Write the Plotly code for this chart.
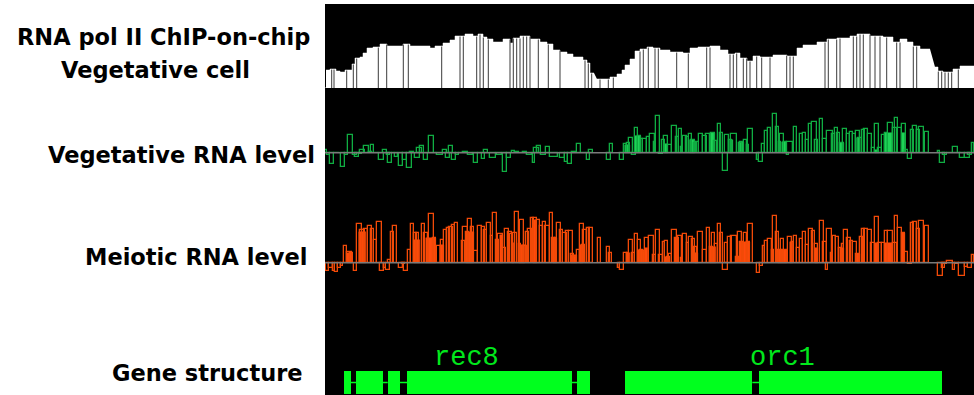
import plotly.graph_objects as go

# ---------------- data (positions in probe-track units along the region) ----------------
track_labels = ["Vegetative RNA level", "Meiotic RNA level", "Gene structure"]
chip_label_lines = ["RNA pol II ChIP-on-chip", "Vegetative cell"]

# RNA pol II ChIP-on-chip signal: [start, end, value]
chip_segments = [
    [1, 5, 18], [5, 11, 19], [11, 15, 17], [15, 20, 16], [20, 27, 18], [27, 30, 24], [30, 35, 30],
    [35, 38, 31], [38, 42, 35], [42, 48, 40], [48, 55, 41], [55, 62, 44], [62, 78, 42], [78, 85, 44],
    [85, 105, 42], [105, 110, 40], [110, 118, 42], [118, 125, 45], [125, 130, 48], [130, 140, 52],
    [140, 148, 54], [148, 153, 52], [153, 158, 54], [158, 162, 51], [162, 168, 49], [168, 178, 46],
    [178, 185, 49], [185, 188, 45], [188, 195, 50], [195, 205, 52], [205, 215, 49], [215, 222, 46],
    [222, 228, 44], [228, 235, 38], [235, 242, 36], [242, 248, 34], [248, 258, 31], [258, 262, 28],
    [262, 265, 25], [265, 269, 15],
    [272, 278, 9], [278, 285, 9], [285, 292, 11], [292, 297, 14], [297, 300, 18], [300, 305, 23],
    [305, 310, 29], [310, 315, 37], [315, 322, 39], [322, 328, 41], [328, 335, 40], [335, 345, 38],
    [345, 358, 36], [358, 365, 35], [365, 373, 40], [373, 385, 41], [385, 395, 42], [395, 403, 38],
    [403, 410, 34], [410, 415, 35], [415, 422, 30], [422, 428, 27], [428, 435, 32], [435, 448, 31],
    [448, 462, 33], [462, 472, 32], [472, 478, 40], [478, 492, 43], [492, 502, 46], [502, 512, 49],
    [512, 525, 50], [525, 532, 52], [532, 545, 54], [545, 558, 52], [558, 568, 51], [568, 575, 46],
    [575, 582, 49], [582, 588, 46], [588, 595, 42], [595, 605, 39],
    [610, 613, 21], [613, 618, 17], [618, 628, 16], [628, 635, 19], [635, 649, 22],
]
# probe boundaries visible as dark lines inside the ChIP profile
chip_separators = [
    6.7, 9, 21.7, 28.3, 31.7, 53.3, 61.7, 78.3, 83.3, 116.7, 135, 138.3, 151.7, 155, 158.3, 163.3,
    185, 188.3, 191.7, 195, 198.3, 201.7, 205, 213.3, 223.3, 235, 260, 263.3, 266.7, 275, 283.3,
    288.3, 315, 318.3, 323.3, 330, 333.3, 351.7, 363.3, 381.7, 385, 405, 408.3, 411.7, 418.3, 421.7,
    425, 431.7, 436.7, 445, 461.7, 465, 468.3, 500, 503.3, 511.7, 515, 528.3, 531.7, 535, 538.3,
    545, 550, 555, 561.7, 571.7, 575, 588.3, 591.7, 613.3, 616.7, 620, 623.3, 626.7, 633.3,
]

# Vegetative RNA level: [start, end, value]
veg_bars = [
    [0, 2.3, 2.7], [2.3, 5, -2.3], [5, 9, -11], [9, 15, -0.7], [15.7, 20, -14.7], [20, 23.3, -2],
    [23.3, 28.3, 18], [28.3, 31.7, -2], [30, 34.3, -4], [34.3, 36.7, -1], [35, 40, 3], [39.3, 44.3, 7],
    [44.3, 46.7, 1], [45.7, 49.3, 8], [49.3, 54.3, -0.7], [54.3, 59, -7.3], [58.3, 61.7, 3],
    [61.7, 65, -2.3], [63.3, 66.7, -10], [66.7, 70, -0.5], [70, 73.3, -4], [74, 77.7, -13.3],
    [77.7, 82.3, -7.3], [82.3, 86.7, -15.7], [85, 89, 1], [90, 95, -5.7], [92.3, 96.7, 4.3],
    [95, 99, 6.7], [99, 103.3, -7.3], [104, 109, 17], [109, 112.3, -0.5], [112.3, 117.7, -2.3],
    [118.3, 121.7, 2.7], [121, 125, -5.7], [124, 128.3, 7], [127.3, 130.7, -7.3], [130.7, 134.3, -2.3],
    [134.3, 137.7, -0.5], [138.3, 143.3, 1], [143.3, 148.3, -2.3], [149, 153.3, -10.7],
    [153.3, 156.7, -0.5], [156.7, 160, -6.7], [159.3, 162.7, 2.7], [165, 171, -5.7], [171.7, 176.7, -2.3],
    [177.7, 182.3, -19.3], [181.7, 185.7, -5.7], [186.7, 190, 1.7], [190, 194.3, 1], [194.3, 198.3, -0.5],
    [198.3, 202.3, 1], [202.3, 206.7, -2.3], [208.3, 210, -10.7], [209, 213.7, 4.3], [211.7, 215.7, 7],
    [215.7, 221, -2.3], [221, 225, 6], [225, 233.3, -4], [235, 240, -5.7], [240, 243.3, -9],
    [243.3, 247.3, -11.3], [247.3, 251, 1], [251.7, 255.7, 8.3], [255.7, 261.7, -0.5],
    [261.7, 265, -7.3], [264.3, 268.3, 2.7],
    [282.3, 285.7, -7.3], [285, 287.7, 8.7],
    [295, 299.3, -7.3], [299, 301.7, 8.3], [301.7, 305, 10], [304.3, 308.3, 14.3], [306.7, 311, -2.3],
    [310, 313.3, 24.3], [313.3, 315.7, 17], [315.7, 318.3, 13.3], [318.3, 321.7, 13.3],
    [321.7, 325, 15.3], [325, 330, 18.3], [329, 331, 11], [331, 335, 37], [334.3, 337.7, -1.3],
    [337.3, 340, 12.7], [339.3, 343.3, 17], [342.7, 346.7, 7.7], [346.7, 351.7, 27], [351, 354.3, 16],
    [353.7, 356.7, 23.7], [355.7, 358.3, 6], [357.7, 362.3, 17], [361, 364.3, 15.3], [363.7, 366.7, 18.3],
    [365.7, 370, 12.7], [369, 372.3, 9.3], [371, 374.3, 10.3], [374.3, 378.3, 18.3], [377.7, 381.7, 16.7],
    [381, 385, 18.3], [385.7, 390, 20], [389, 392.3, 12], [393.3, 396, 28.3], [395, 397.7, 19.3],
    [397.7, 403.3, -18], [400, 404.3, 17.7], [404.3, 406.7, 12.7], [406, 411.7, 18.7],
    [411.7, 414.3, -0.7], [413.7, 416.7, 9.3], [415, 419, 10.3], [419, 422.3, 12.7], [421.7, 424.3, 7.7],
    [423.3, 428.3, 23.7],
    [431.7, 434.3, -7.3], [434.3, 437.7, -9], [436.7, 440, 8.3], [440, 443.3, 21.7], [442.7, 446, 25],
    [447.7, 451.7, 38.3], [451, 453.7, 26], [453.7, 456, 11], [455, 459, 18.3], [459, 461.7, 11],
    [461.7, 464.3, -2.3], [461.7, 467.7, 11], [469, 471.7, 25.3], [471.7, 475, -0.5], [475, 478.3, 18.3],
    [477.7, 481, 20], [481, 484.3, 12.7], [484, 486.7, 28.3], [486.7, 491.7, 31], [490, 493.3, 12.7],
    [495, 498.3, 33.7], [498.3, 501.7, 13.3], [502.3, 507.7, 22], [506.7, 510, 18.3], [510, 513.3, 25],
    [512.3, 515, 19.3], [515, 519, 9.3], [518.3, 522.3, 23.7], [521.7, 525, 18.3], [525, 528.3, 20.3],
    [528.3, 531, 18.7], [531, 535, 21.7], [533.3, 536.7, 14.3], [536.7, 540, 22.7], [539, 543.3, 23.7],
    [543.3, 546.7, 18.3], [546.7, 550, 4.3], [550, 554.3, 28.3], [553.3, 556.7, 4.3], [556.7, 560, 17.7],
    [560, 563.3, 20], [562.7, 568.3, 29.3], [568.3, 571.7, 24.3], [570, 573.3, 34.3], [573.3, 576.7, 24.3],
    [576.7, 580.7, 28.3], [580, 582.7, 2.7], [582.7, 586.7, -6.3], [585.7, 589, 22.7], [588.3, 592.3, 27],
    [591.7, 595, 22.7], [594.3, 599, 25.3], [600, 603.7, 21],
    [612.7, 615, 1.7], [615, 620, -10], [618.3, 621.7, -2.3], [621.7, 628.3, -0.5], [628.3, 633.3, 6],
    [633.3, 635.7, -0.5], [635, 640, -5.7], [640, 645, -5.7], [643.3, 646.7, -2.3], [646.7, 649, 10],
]
veg_fill = [
    [300, 305, 8], [310, 315.7, 17], [339.3, 343.3, 8.3], [365, 370, 12.7], [385.7, 390, 20],
    [405, 407.7, 12.7], [415, 419, 10.3], [456.7, 461.7, 11], [515, 519, 9.3], [531.7, 535, 14.3],
    [550, 554.3, 2.7], [560, 568.3, 20], [576.7, 580, 20],
]

# Meiotic RNA level: [start, end, value]
meio_bars = [
    [1, 4.3, -8.3], [4.3, 7.7, -5.7], [7.7, 10, -8.3], [10, 13.3, -9.7], [13.3, 15.7, -5.7],
    [15.7, 17.7, -3], [17.7, 20, -0.7], [19, 21.7, 17], [21.7, 26.7, 11], [25, 28.3, 10],
    [29.3, 32.3, -8.3], [31.7, 36.7, 38.3], [35, 40, 32.7], [39.3, 42.7, 33.7], [42.7, 46.7, 36.7],
    [46, 49.3, 33.7], [49, 51.7, 22.7], [51.7, 56.7, 41], [55, 59, -8.3], [59, 61, -5.7], [61, 65, -7.3],
    [63.3, 66, 2.7], [66, 69.3, 31], [68.3, 72.3, 37], [74.3, 77.7, -5.7], [76.7, 80, -1.7],
    [79, 83.3, -8.3], [82.7, 85.7, 12.7], [85.7, 89.3, 38.3], [89, 92.3, 30], [91, 94.3, 30],
    [96.7, 100, 38.3], [99, 103.3, 30], [104.3, 109, 48.3], [108.3, 111, 24.3], [111.7, 115.7, 17],
    [115.7, 119, 22.7], [119, 121.7, 32.7], [121.7, 125, 34.3], [124.3, 127.7, 36], [126.7, 130, 37.7],
    [130, 133.3, 39.3], [132.7, 136.7, -0.7], [136.7, 140, 21.7], [138.3, 142.7, 35.3], [141, 144.3, 31],
    [143.3, 146.7, 43.7], [145.7, 149, 36], [149.3, 153.3, 11.7], [153.3, 156.7, 37], [156.7, 160, 36],
    [159, 162.3, 32.7], [161.7, 165.7, 39.3], [165.7, 168.3, 27], [167.7, 171.7, 49.3], [170.7, 174, 22.7],
    [173.3, 178.3, 28.3], [178.3, 180.7, 15], [180, 184.3, 33.7], [183.3, 186.7, 30.3], [185, 188.3, 28.3],
    [187.7, 191.7, 29.3], [190, 194.3, 51], [194.3, 195.7, 18.3], [195, 199, 42.7], [198.3, 201.7, 17],
    [201, 204.3, 31], [203.3, 206.7, 33.7], [205.7, 209, 45], [208.3, 212.3, 45], [211.7, 215, 42.7],
    [215, 218.3, 36.7], [217.7, 221, 40.3], [220.3, 225, 37], [225, 227.7, 49.3], [226.7, 230, 25],
    [230, 232.3, 25], [232.3, 235.7, 39.3], [235, 238.3, 32.7], [238.3, 241.7, 29.3], [241, 244.3, 31.7],
    [244.3, 247.7, 31.7], [245.7, 249, 8.7], [248.3, 251.7, 5.3], [251.7, 255, 12.7], [255, 259, 38.3],
    [256.7, 260, 17.7], [258.3, 261.7, 32.7], [261.7, 265, 35], [264.3, 268.3, 35],
    [273.3, 275.7, 24.3], [281.7, 285, 16], [284.3, 286.7, 10],
    [292.7, 295, -5.7], [295, 299, -7.3], [299, 301.7, 10], [301.7, 304.3, 9.3], [304.3, 307.7, 22.7],
    [306.7, 310, 9.3], [310, 313.3, 28.3], [313.3, 315.7, 22.7], [315, 318.3, 12.7], [317.7, 320, 11],
    [320, 324.3, 24.3], [324.3, 329, 27], [328.3, 331, 7.7], [331, 335, 32.7], [334.3, 337.7, 7.7],
    [337.7, 340, 20.3], [340, 343.3, 21.7], [341.7, 345, 6], [344.3, 346.7, 8.7], [346.7, 351.7, 32.7],
    [350, 354.3, 24.3], [353.3, 356.7, 27], [355.7, 358.3, 4.3], [358.3, 361.7, 28.3], [361.7, 364.3, 19.3],
    [364.3, 367.7, 25.3], [366.7, 370, 23.3], [369.3, 372.3, 16], [373.3, 378.3, 31], [378.3, 381.7, 12.7],
    [381.7, 385, 34.3], [385, 387.7, 16], [386.7, 390, 30], [390, 393.3, 18.3], [393.3, 395.7, 38.3],
    [395, 398.3, 29.3], [397.7, 403.3, -7.3], [400, 403.3, 20], [403.3, 406.7, 25.3], [406, 411.7, 27],
    [411, 414.3, 6], [413.3, 416.7, 31], [415, 418.3, 21], [419, 422.3, 29.3], [421.7, 425, 21],
    [423.3, 428.3, 38.3],
    [431.7, 435, -10], [435, 437.7, -3], [437.7, 440, 17], [440, 442.7, 22], [442.7, 446.7, 23.7],
    [446.7, 449, 12.7], [448.3, 451.7, 46.7], [451, 453.7, 31], [453.3, 456.7, 12.7], [455.7, 459, 23.7],
    [458.3, 461.7, 12.7], [461.7, 463.3, 4.3], [462.7, 466.7, 25.3], [466.7, 469, 21], [469, 472.3, 26.7],
    [471.7, 475, 14.3], [475, 478.3, 23.7], [477.7, 481, 31], [481, 484.3, 17.7], [484.3, 487.7, 33.7],
    [486.7, 490, 32], [490, 493.3, 18.3], [495, 499, 42], [498.3, 501.7, 21], [501, 503.3, -7.3],
    [502.3, 506.7, 33.7], [505.7, 508.3, 10], [508.3, 511, 26.7], [511, 514.3, 25.3], [514.3, 516.7, 14.3],
    [516.7, 519, 18.3], [519, 523.3, 32.7], [521.7, 525.7, 25], [525, 528.3, 22], [528.3, 531.7, 21],
    [531, 535, 8.7], [535, 537.7, 26], [536.7, 540, 33.7], [539, 543.3, 33.7], [543.3, 546.7, 32.7],
    [546, 550, 19.3], [550, 554.3, 45.3], [553.3, 556.7, 19.3], [556.7, 560, 20], [560, 563.3, 32],
    [562.7, 568.3, 32], [568.3, 571.7, 19.3], [570, 573.3, 46.7], [573.3, 576.7, 35], [576.7, 580, 30],
    [580, 583.3, 11], [582.7, 586.7, -1.7], [585.7, 589, 39.3], [588.3, 592.3, 40.3], [591.7, 595, 33.3],
    [594.3, 599, 42], [600, 603.7, 36.7],
    [612.7, 617.7, -13.3], [616.7, 620, -5.7], [619, 621.7, -1.7], [621.7, 627.7, 1.7], [627.7, 630, -7.3],
    [630, 634.3, -1.7], [634.3, 640, -13.3], [640, 643.3, -4], [643.3, 646.7, -5.7], [646.7, 649, 7.7],
]
meio_fill = [
    [21.7, 26.7, 9.3], [34.3, 41, 31], [89, 95, 22.7], [101, 111, 24.3], [115, 119, 17.7],
    [140.7, 149, 31], [175, 177.7, 27.7], [186.7, 189, 20], [194.3, 200, 17.7], [208.3, 211.7, 42.7],
    [228.3, 232.3, 25], [245.7, 251.7, 7.7], [255, 258.3, 17.7], [301.7, 305, 9.3], [313, 320, 12.7],
    [320, 323.3, 14.3], [340, 342.3, 6], [350, 353.3, 24.3], [370, 373.3, 9.3], [385, 391, 16],
    [415, 425, 21], [453.3, 461.7, 12.7], [465, 468.3, 21], [490, 493.3, 14.3], [515, 519, 14.3],
    [531.7, 535, 8.7], [550, 554.3, 19.3], [560, 568.3, 19.3], [576.7, 580, 30],
]

# Gene structure: exons [start, end]
gene_names = ["rec8", "orc1"]
gene_exons = [
    [[19.3, 26], [31, 57.7], [62.7, 75], [82.3, 246.7], [252.3, 265]],
    [[300, 427.3], [434, 616.7]],
]
gene_label_pos = [141.5, 457.5]

# ---------------- layout geometry ----------------
W, H = 974, 395
ML, MT = 325, 4
PW, PH = W - ML, H - MT


def py(ypx):
    """pixel row -> paper fraction"""
    return (H - ypx) / PH


def px(xpx):
    return (xpx - ML) / PW


CHIP_BASE, VEG_BASE, MEIO_BASE = 88, 152.7, 262.7

fig = go.Figure()


def bar_trace(data, axis, fill, line, lw):
    s = [d[0] for d in data]
    e = [d[1] for d in data]
    v = [d[2] for d in data]
    return go.Bar(x=[(a + b) / 2 for a, b in zip(s, e)], y=v, width=[b - a for a, b in zip(s, e)],
                  marker=dict(color=fill, line=dict(color=line, width=lw)), yaxis=axis, hoverinfo="skip")


# ChIP profile as stepped white area
cx, cy = [], []
prev_end = None
for s, e, v in chip_segments:
    if prev_end is not None and s - prev_end > 0.5:
        cx.append(None)
        cy.append(None)
    cx += [s, e]
    cy += [v, v]
    prev_end = e
fig.add_trace(go.Scatter(x=[0, PW], y=[0, 0], mode="lines", line=dict(color="#8a8a8a", width=1.5),
                         yaxis="y", hoverinfo="skip"))
fig.add_trace(go.Scatter(x=cx, y=cy, mode="lines", line=dict(color="white", width=0.5),
                         fill="tozeroy", fillcolor="white", connectgaps=False, yaxis="y", hoverinfo="skip"))


def chip_at(x):
    for s, e, v in chip_segments:
        if s <= x <= e:
            return v
    return 0


sx, sy = [], []
for x in chip_separators:
    sx += [x, x, None]
    sy += [0, chip_at(x) - 0.5, None]
fig.add_trace(go.Scatter(x=sx, y=sy, mode="lines", line=dict(color="#3a3a3a", width=1),
                         yaxis="y", hoverinfo="skip"))

for axis in ["y2", "y3"]:
    fig.add_trace(go.Scatter(x=[0, PW], y=[0, 0], mode="lines", line=dict(color="#7a7a7a", width=1.5),
                             yaxis=axis, hoverinfo="skip"))

fig.add_trace(bar_trace(veg_fill, "y2", "#1fd457", "#1fd457", 0.5))
fig.add_trace(bar_trace(veg_bars, "y2", "rgba(0,0,0,0)", "#10ad42", 1.3))
fig.add_trace(bar_trace(meio_fill, "y3", "#ff4a0c", "#ff4a0c", 0.5))
fig.add_trace(bar_trace(meio_bars, "y3", "rgba(0,0,0,0)", "#f24a08", 1.3))

# gene structure
GC = "#00ff1e"
for exons in gene_exons:
    fig.add_trace(go.Bar(orientation="h", base=[a for a, b in exons], x=[b - a for a, b in exons],
                         y=[12.5] * len(exons), width=23, marker=dict(color=GC, line=dict(width=0)),
                         yaxis="y4", hoverinfo="skip"))
    ix, iy = [], []
    for (a1, b1), (a2, b2) in zip(exons[:-1], exons[1:]):
        ix += [b1, a2, None]
        iy += [12.5, 12.5, None]
    fig.add_trace(go.Scatter(x=ix, y=iy, mode="lines", line=dict(color=GC, width=1.5),
                             yaxis="y4", hoverinfo="skip"))

annotations = []
for name, xpos in zip(gene_names, gene_label_pos):
    annotations.append(dict(text=name, x=xpos, y=37, xref="x", yref="y4", showarrow=False,
                            font=dict(family="Liberation Mono, Courier New, monospace", size=27, color="#00e81c")))

LF = dict(family="DejaVu Sans, Arial, sans-serif", size=22.5, color="#000000")
annotations += [
    dict(text="<b>%s</b>" % chip_label_lines[0], x=px(163), y=py(37), xanchor="center"),
    dict(text="<b>%s</b>" % chip_label_lines[1], x=px(155.5), y=py(70), xanchor="center"),
    dict(text="<b>%s</b>" % track_labels[0], x=px(317), y=py(155), xanchor="right"),
    dict(text="<b>%s</b>" % track_labels[1], x=px(309), y=py(257), xanchor="right"),
    dict(text="<b>%s</b>" % track_labels[2], x=px(305), y=py(373), xanchor="right"),
]
for a in annotations[2:]:
    a.update(xref="paper", yref="paper", yanchor="middle", showarrow=False, font=LF)

ax_common = dict(visible=False, showgrid=False, zeroline=False, fixedrange=True)
fig.update_layout(
    width=W, height=H, autosize=False,
    margin=dict(l=ML, r=0, t=MT, b=0, pad=0),
    paper_bgcolor="white", plot_bgcolor="black",
    showlegend=False, barmode="overlay", bargap=0,
    xaxis=dict(range=[0, PW], domain=[0, 1], anchor="y", **ax_common),
    yaxis=dict(domain=[py(CHIP_BASE), 1], range=[0, CHIP_BASE - MT], anchor="x", **ax_common),
    yaxis2=dict(domain=[py(185), py(110)], range=[-(185 - VEG_BASE), VEG_BASE - 110], anchor="x", **ax_common),
    yaxis3=dict(domain=[py(290), py(205)], range=[-(290 - MEIO_BASE), MEIO_BASE - 205], anchor="x", **ax_common),
    yaxis4=dict(domain=[0, py(335)], range=[0, 60], anchor="x", **ax_common),
    shapes=[dict(type="rect", xref="paper", yref="paper", x0=0, x1=1, y0=0, y1=1,
                 fillcolor="black", line=dict(width=0), layer="below")],
    annotations=annotations,
)

fig.write_html("out.html", config={"displayModeBar": False},
               post_script="document.body.style.margin='0';document.body.style.overflow='hidden';")
